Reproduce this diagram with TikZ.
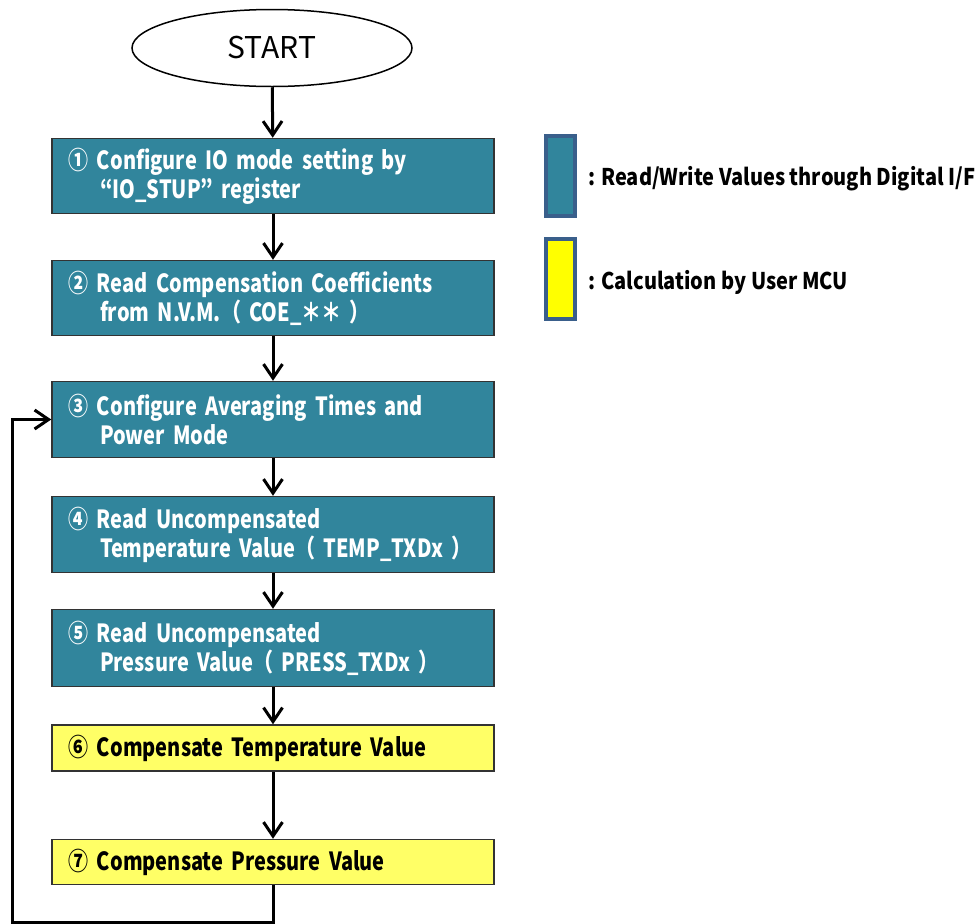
\documentclass[tikz,border=0pt]{standalone}
\usepackage{fontspec}
\usetikzlibrary{shapes.geometric,arrows.meta}

\newfontfamily\flowfont{Noto Sans CJK JP}[FakeStretch=0.8]
\newfontfamily\keyfont{Noto Sans CJK JP}[FakeStretch=0.87]
\newfontfamily\startfont{Noto Sans CJK JP}

\definecolor{ioteal}{HTML}{31859C}
\definecolor{calcyellow}{HTML}{FFFF66}
\definecolor{keyyellow}{HTML}{FFFF00}
\definecolor{keyedge}{HTML}{3A5F8B}

\newcommand{\stepindent}{\hspace*{32pt}}
\newcommand{\stepgap}{\hspace{9pt}}

\tikzset{
  procbox/.style={rectangle, draw=black!80, line width=1.5pt,
    text width=410pt, inner xsep=16pt, inner ysep=0pt, align=left,
    font=\flowfont\bfseries\fontsize{25}{29}\selectfont},
  iobox/.style={procbox, fill=ioteal, text=white},
  calcbox/.style={procbox, fill=calcyellow, text=black},
  keybox/.style={rectangle, draw=keyedge, line width=3.5pt,
    minimum width=29pt, minimum height=80pt, inner sep=0pt},
  keytext/.style={anchor=west, inner sep=0pt,
    font=\keyfont\bfseries\fontsize{23}{26}\selectfont},
  flow/.style={line width=3pt, -{Straight Barb[length=14pt, width=19pt, line width=3pt]}}
}

\begin{document}
\begin{tikzpicture}[x=1pt, y=-1pt]

  \useasboundingbox (0,0) rectangle (975,924);

  \node[ellipse, draw, line width=1.5pt, minimum width=280pt, minimum height=77pt,
        font=\startfont\fontsize{30}{36}\selectfont] (start) at (272,48) {START};

  \node[iobox, minimum height=75pt] (b1) at (273,176)
    {①\stepgap Configure IO mode setting by\\\stepindent“IO\_STUP” register};
  \node[iobox, minimum height=75pt] (b2) at (273,298)
    {②\stepgap Read Compensation Coefficients\\\stepindent from N.V.M.（ COE\_＊＊ ）};
  \node[iobox, minimum height=76pt] (b3) at (273,419.5)
    {③\stepgap Configure Averaging Times and\\\stepindent Power Mode};
  \node[iobox, minimum height=76pt] (b4) at (273,534.5)
    {④\stepgap Read Uncompensated\\\stepindent Temperature Value（ TEMP\_TXDx ）};
  \node[iobox, minimum height=77pt] (b5) at (273,648)
    {⑤\stepgap Read Uncompensated\\\stepindent Pressure Value（ PRESS\_TXDx ）};
  \node[calcbox, minimum height=46pt] (b6) at (273,748)
    {⑥\stepgap Compensate Temperature Value};
  \node[calcbox, minimum height=45pt] (b7) at (273,862)
    {⑦\stepgap Compensate Pressure Value};

  \node[keybox, fill=ioteal] (key1) at (560.5,176) {};
  \node[keybox, fill=keyyellow] (key2) at (560.5,279) {};
  \node[keytext] (key1text) at (588,179) {: Read/Write Values through Digital I/F};
  \node[keytext] (key2text) at (588,282) {: Calculation by User MCU};

  \coordinate (loop) at (12,922);

  \draw[flow] (start) -- (b1);
  \draw[flow] (b1) -- (b2);
  \draw[flow] (b2) -- (b3);
  \draw[flow] (b3) -- (b4);
  \draw[flow] (b4) -- (b5);
  \draw[flow] (b5) -- (b6);
  \draw[flow] (b6) -- (b7);
  \draw[flow] (b7.south) |- (loop) |- (b3.west);

\end{tikzpicture}
\end{document}
